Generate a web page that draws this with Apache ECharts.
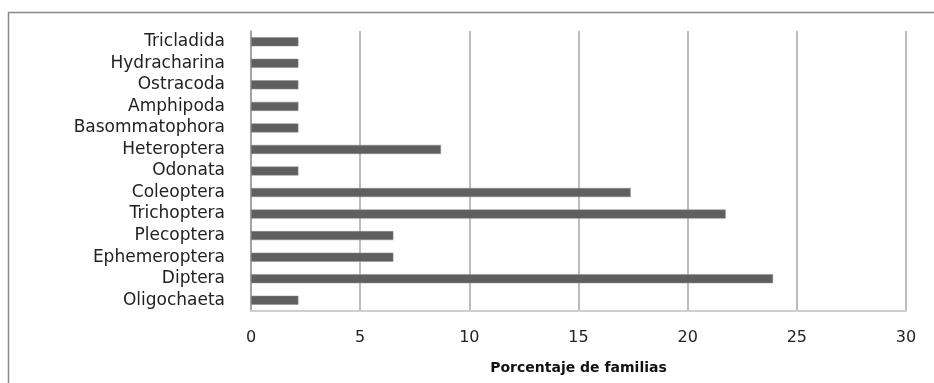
<!DOCTYPE html>
<html>
<head>
<meta charset="utf-8">
<script src="https://cdn.jsdelivr.net/npm/echarts@6/dist/echarts.min.js"></script>
<style>
  html, body { margin: 0; padding: 0; background: #fff; }
  #chart { width: 934px; height: 383px; }
</style>
</head>
<body>
<div id="chart"></div>
<script>
// categories bottom -> top
const categories = ['Oligochaeta', 'Diptera', 'Ephemeroptera', 'Plecoptera', 'Trichoptera',
  'Coleoptera', 'Odonata', 'Heteroptera', 'Basommatophora', 'Amphipoda', 'Ostracoda',
  'Hydracharina', 'Tricladida']
const values = [2.17, 23.91, 6.52, 6.52, 21.74, 17.39, 2.17, 8.7, 2.17, 2.17, 2.17, 2.17, 2.17]
const xTicks = [0, 5, 10, 15, 20, 25, 30]

const myChart = echarts.init(document.getElementById('chart'))

const option = {
  animation: false,
  backgroundColor: '#fff',
  graphic: [
    {
      type: 'rect',
      shape: { x: 8.5, y: 12.5, width: 940, height: 400 },
      style: { fill: 'none', stroke: '#8a8a8a', lineWidth: 1.5 },
      silent: true
    }
  ],
  grid: {
    left: 251,
    right: 28,
    top: 31,
    bottom: 72,
    containLabel: false
  },
  xAxis: {
    type: 'value',
    min: xTicks[0],
    max: xTicks[xTicks.length - 1],
    interval: 5,
    name: 'Porcentaje de familias',
    nameLocation: 'middle',
    nameGap: 50,
    nameTextStyle: {
      fontFamily: 'DejaVu Sans',
      fontWeight: 'bold',
      fontSize: 14,
      color: '#111'
    },
    axisLine: { show: true, lineStyle: { color: '#cfcfcf', width: 2 } },
    axisTick: { show: false },
    axisLabel: {
      margin: 19,
      fontFamily: 'DejaVu Sans',
      fontSize: 16,
      color: '#222'
    },
    splitLine: { show: true, lineStyle: { color: '#a6a6a6', width: 1.5 } }
  },
  yAxis: {
    type: 'category',
    data: categories,
    axisLine: { show: true, lineStyle: { color: '#9a9a9a', width: 1.5 } },
    axisTick: { show: false },
    axisLabel: {
      interval: 0,
      margin: 26,
      fontFamily: 'DejaVu Sans',
      fontSize: 17,
      lineHeight: 18,
      color: '#222'
    }
  },
  series: [
    {
      type: 'bar',
      data: values,
      barWidth: 9,
      itemStyle: { color: '#5f5f5f', borderColor: '#8a8a8a', borderWidth: 0.5 },
      silent: true
    }
  ]
}

myChart.setOption(option)
</script>
</body>
</html>
